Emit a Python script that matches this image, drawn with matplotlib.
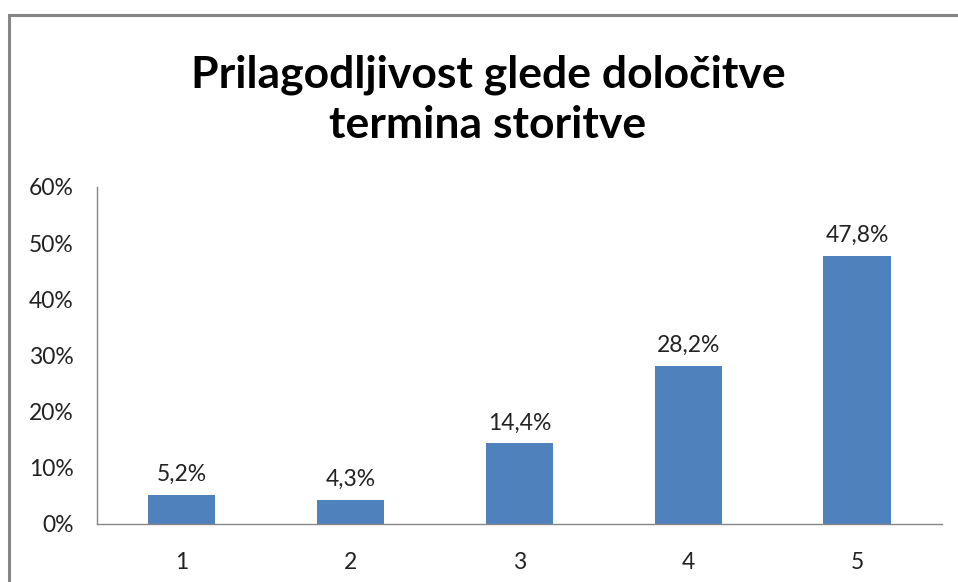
import matplotlib.pyplot as plt
from matplotlib.patches import Rectangle

categories = ["1", "2", "3", "4", "5"]
values = [5.2, 4.3, 14.4, 28.2, 47.8]
value_labels = ["5,2%", "4,3%", "14,4%", "28,2%", "47,8%"]
yticks = [0, 10, 20, 30, 40, 50, 60]
ytick_labels = ["0%", "10%", "20%", "30%", "40%", "50%", "60%"]
title = "Prilagodljivost glede določitve\ntermina storitve"

plt.rcParams['font.family'] = ['Lato', 'DejaVu Sans']

fig = plt.figure(figsize=(9.58, 5.82), dpi=100)
ax = fig.add_axes([0.1013, 0.0997, 0.8817, 0.579])

# chart frame (extends past the right and bottom edge)
fig.patches.append(Rectangle((9 / 958, -0.1), 1.2, 1 - 15 / 582 + 0.1,
                             transform=fig.transFigure, fill=False,
                             edgecolor='#868686', linewidth=2.2))

x = range(len(categories))
ax.bar(x, values, width=0.4, color='#4F81BD')
for i, v in enumerate(values):
    ax.annotate(value_labels[i], (i, v), xytext=(0, 7), textcoords='offset points',
                ha='center', va='bottom', fontsize=16.5, color='#222222')

ax.set_xlim(-0.5, len(categories) - 0.5)
ax.set_ylim(0, 60)
ax.set_yticks(yticks)
ax.set_yticklabels(ytick_labels)
ax.set_xticks(list(x))
ax.set_xticklabels(categories)
ax.tick_params(axis='both', length=0, labelsize=16.5, labelcolor='#222222')
ax.tick_params(axis='y', pad=17)
ax.tick_params(axis='x', pad=20)

for s in ['top', 'right']:
    ax.spines[s].set_visible(False)
for s in ['left', 'bottom']:
    ax.spines[s].set_color('#868686')
    ax.spines[s].set_linewidth(1)

fig.text(488 / 958, 1 - 100 / 582, title, ha='center', va='center',
         fontsize=32, fontweight='bold', color='#000000', linespacing=1.3)

fig.savefig('out.png', dpi=100)
